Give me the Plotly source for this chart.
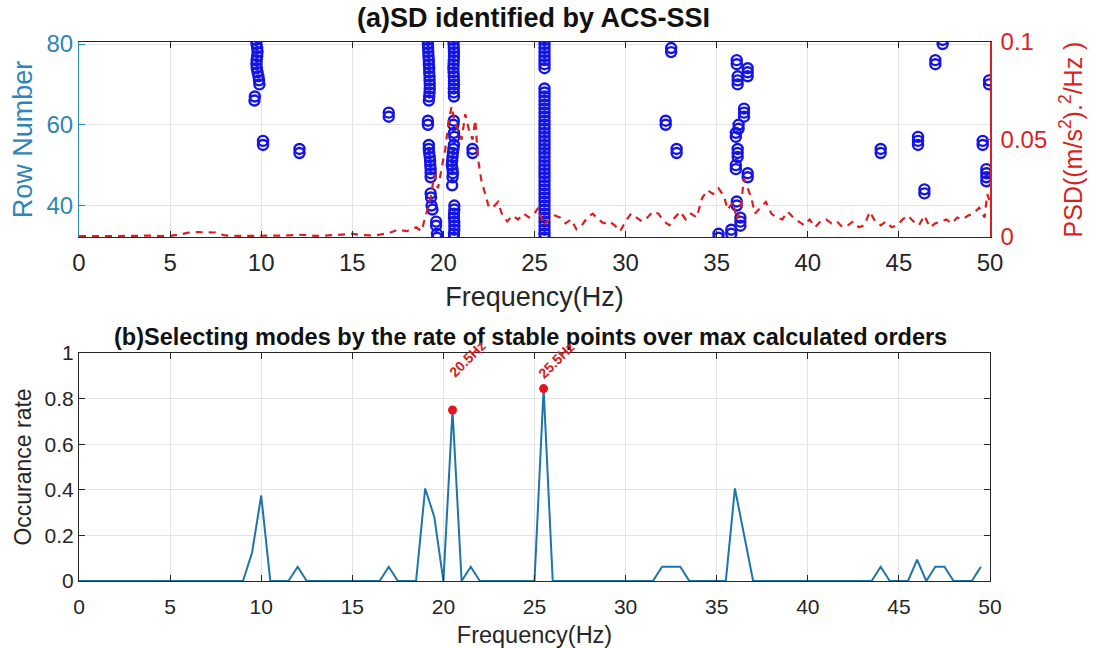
import plotly.graph_objects as go

# ---------------- data ----------------
# (a) stabilisation diagram: identified frequency (Hz) vs row number
sd_freq = (
    [9.72, 9.74, 9.78, 9.80, 9.78, 9.75, 9.74, 9.76, 9.80, 9.85, 9.88, 9.90, 9.65, 9.63]
    + [10.1, 10.1, 12.1, 12.1, 17.0, 17.0]
    + [19.15, 19.15, 19.16, 19.17, 19.18, 19.2, 19.2, 19.22, 19.22, 19.24, 19.24, 19.25, 19.25, 19.24, 19.22, 19.2]
    + [19.15, 19.15, 19.2, 19.2, 19.22, 19.25, 19.27, 19.28, 19.3, 19.3, 19.3, 19.3, 19.32, 19.35, 19.4, 19.6, 19.6, 19.65, 19.65]
    + [20.55, 20.56, 20.57, 20.58, 20.58, 20.57, 20.56, 20.55, 20.56, 20.57, 20.58, 20.58, 20.57, 20.57, 20.58]
    + [20.57, 20.55, 20.58, 20.6, 20.58, 20.55, 20.52, 20.5, 20.48, 20.46, 20.5, 20.52, 20.5, 20.48]
    + [20.6, 20.6, 20.58, 20.58, 20.6, 20.6, 20.6, 20.58, 20.58]
    + [21.6, 21.6]
    + [25.55] * 8 + [25.55] * 38
    + [32.2, 32.2, 32.5, 32.5, 32.8, 32.8, 35.1, 35.1, 35.8, 35.8]
    + [36.1, 36.1, 36.15, 36.15, 36.15, 36.2, 36.2, 36.05, 36.05, 36.15, 36.15, 36.15, 36.05, 36.05, 36.1, 36.1, 36.3, 36.3, 36.3]
    + [36.7, 36.7, 36.7, 36.5, 36.5, 36.5, 36.7, 36.7]
    + [44.0, 44.0, 46.05, 46.05, 46.05, 46.4, 46.4, 47.0, 47.0, 47.4, 47.4]
    + [49.6, 49.6, 49.8, 49.8, 49.8, 49.8, 49.95, 49.95]
)
sd_row = (
    [81, 80, 79, 78, 77, 76, 75, 74, 73, 72, 71, 70, 67, 66]
    + [56, 55, 54, 53, 63, 62]
    + [81, 80, 79, 78, 77, 76, 75, 74, 73, 72, 71, 70, 69, 68, 67, 66]
    + [61, 60, 55, 54, 53, 52, 51, 50, 49, 48, 47, 43, 42, 40, 39, 36, 35, 33, 32]
    + [81, 80, 79, 78, 77, 76, 75, 74, 73, 72, 71, 70, 69, 68, 67]
    + [61, 60, 58, 57, 55, 54, 53, 52, 51, 50, 49, 48, 47, 45]
    + [40, 39, 38, 37, 36, 35, 34, 33, 32]
    + [54, 53]
    + list(range(81, 73, -1)) + list(range(69, 31, -1))
    + [61, 60, 79, 78, 54, 53, 33, 32, 34, 33]
    + [76, 75, 72, 71, 70, 60, 59, 58, 57, 54, 53, 52, 50, 49, 41, 40, 37, 36, 35]
    + [74, 73, 72, 64, 63, 62, 48, 47]
    + [54, 53, 57, 56, 55, 44, 43, 76, 75, 81, 80]
    + [56, 55, 49, 48, 47, 46, 71, 70]
)

# (a) PSD curve (right axis)
psd_freq = [0, 0.5, 1, 1.5, 2, 2.5, 3, 3.5, 4, 4.5, 5, 5.5, 6, 6.5, 7, 7.5, 8, 8.5, 9, 9.5,
            10, 10.5, 11, 11.5, 12, 12.5, 13, 13.5, 14, 14.5, 15, 15.5, 16, 16.5, 17, 17.5, 18, 18.5,
            18.8, 19.0, 19.3, 19.5, 19.7, 19.9, 20.1, 20.3, 20.45, 20.6, 20.8, 21.0, 21.2, 21.4, 21.6,
            21.75, 21.9, 22.1, 22.3, 22.5, 22.8, 23.0, 23.2, 23.5, 23.8, 24.1, 24.4, 24.7, 25.0, 25.2,
            25.5, 25.8, 26.1, 26.4, 26.7, 27.0, 27.3, 27.6, 27.9, 28.2, 28.5, 28.8, 29.1, 29.4, 29.7,
            30.0, 30.3, 30.6, 30.9, 31.2, 31.5, 31.8, 32.1, 32.4, 32.7, 33.0, 33.3, 33.6, 33.9, 34.2,
            34.5, 34.8, 35.1, 35.4, 35.6, 35.9, 36.1, 36.3, 36.5, 36.7, 36.9, 37.1, 37.4, 37.7, 38.0,
            38.3, 38.6, 38.9, 39.2, 39.5, 39.8, 40.1, 40.4, 40.7, 41.0, 41.3, 41.6, 41.9, 42.2, 42.5,
            42.8, 43.1, 43.4, 43.7, 44.0, 44.3, 44.6, 44.9, 45.2, 45.5, 45.8, 46.1, 46.4, 46.7, 47.0,
            47.3, 47.6, 47.9, 48.2, 48.5, 48.8, 49.1, 49.4, 49.7, 49.85, 50.0]
psd_val = [0.0005, 0.0004, 0.0006, 0.0004, 0.0005, 0.0006, 0.0004, 0.0005, 0.0007, 0.0005, 0.0006,
           0.0012, 0.0022, 0.0025, 0.0024, 0.0023, 0.0008, 0.0006, 0.0005, 0.0006, 0.0007, 0.0005,
           0.0006, 0.0008, 0.0012, 0.0008, 0.0006, 0.0007, 0.0009, 0.0012, 0.0016, 0.0010, 0.0008,
           0.0012, 0.0020, 0.0038, 0.0030, 0.0050, 0.0030, 0.010, 0.020, 0.032, 0.025, 0.035, 0.045,
           0.060, 0.067, 0.060, 0.055, 0.050, 0.063, 0.055, 0.050, 0.060, 0.040, 0.028, 0.022, 0.015,
           0.016, 0.018, 0.012, 0.008, 0.011, 0.009, 0.012, 0.010, 0.012, 0.015, 0.006, 0.009, 0.011,
           0.010, 0.007, 0.009, 0.004, 0.006, 0.010, 0.012, 0.009, 0.007, 0.008, 0.006, 0.003, 0.008,
           0.012, 0.010, 0.008, 0.010, 0.013, 0.012, 0.008, 0.006, 0.010, 0.013, 0.009, 0.012, 0.010,
           0.020, 0.024, 0.022, 0.025, 0.021, 0.014, 0.018, 0.009, 0.014, 0.030, 0.025, 0.020, 0.012,
           0.015, 0.018, 0.012, 0.010, 0.009, 0.013, 0.010, 0.008, 0.006, 0.009, 0.005, 0.008, 0.009,
           0.007, 0.008, 0.005, 0.006, 0.008, 0.005, 0.006, 0.013, 0.008, 0.006, 0.008, 0.005, 0.006,
           0.009, 0.011, 0.008, 0.006, 0.011, 0.005, 0.007, 0.008, 0.009, 0.007, 0.010, 0.009, 0.011,
           0.012, 0.015, 0.010, 0.022, 0.018]

# (b) occurrence rate
rate_freq = [i * 0.5 for i in range(100)]
rate_val = [0] * 100
_rate_points = {9.5: 0.125, 10.0: 0.375, 12.0: 0.0625, 17.0: 0.0625, 19.0: 0.406, 19.5: 0.281,
                20.5: 0.75, 21.5: 0.0625, 25.5: 0.844, 32.0: 0.0625, 32.5: 0.0625, 33.0: 0.0625,
                36.0: 0.406, 36.5: 0.2, 44.0: 0.0625, 46.0: 0.094, 47.0: 0.0625, 47.5: 0.0625,
                49.5: 0.0625}
for _f, _v in _rate_points.items():
    rate_val[int(round(_f * 2))] = _v

peak_freq = [20.5, 25.5]
peak_rate = [0.75, 0.844]
peak_labels = ["20.5Hz", "25.5Hz"]
peak_label_x = [21.3, 26.2]
peak_label_y = [0.975, 0.97]

x_ticks = list(range(0, 51, 5))
row_ticks = [40, 60, 80]
psd_ticks = [0, 0.05, 0.1]
psd_ticktext = ["0", "0.05", "0.1"]
rate_ticks = [0, 0.2, 0.4, 0.6, 0.8, 1]
rate_ticktext = ["0", "0.2", "0.4", "0.6", "0.8", "1"]

# ---------------- style ----------------
FONT = "Arial, Liberation Sans, sans-serif"
DARK = "#262626"
BLUE_AX = "#2f86b6"
RED = "#d91f1f"
GRID = "#e3e3e3"
W, H = 1096, 648
XD = [79 / W, 990 / W]
YD_TOP = [1 - 237 / H, 1 - 42 / H]
YD_BOT = [1 - 581 / H, 1 - 353 / H]

fig = go.Figure()

fig.add_trace(go.Scatter(
    x=sd_freq, y=sd_row, mode="markers", xaxis="x", yaxis="y",
    marker=dict(symbol="circle-open", size=10, color="#1414e6", line=dict(width=2.4, color="#1414e6")),
    showlegend=False))

fig.add_trace(go.Scatter(
    x=psd_freq, y=psd_val, mode="lines", xaxis="x", yaxis="y2",
    line=dict(color=RED, width=2.2, dash="7px,6px"), showlegend=False))

fig.add_trace(go.Scatter(
    x=rate_freq, y=rate_val, mode="lines", xaxis="x2", yaxis="y3",
    line=dict(color="#1f74a8", width=2), showlegend=False))

fig.add_trace(go.Scatter(
    x=peak_freq, y=peak_rate, mode="markers", xaxis="x2", yaxis="y3",
    marker=dict(color="#e8141b", size=9), showlegend=False))

common_x = dict(range=[0, 50], tickvals=x_ticks, ticks="inside", ticklen=6, tickcolor=DARK,
                showline=True, linecolor=DARK, linewidth=1, mirror="ticks",
                showgrid=True, gridcolor=GRID, gridwidth=1, zeroline=False,
                domain=XD, automargin=False)

fig.update_layout(
    width=W, height=H,
    margin=dict(l=0, r=0, t=0, b=0),
    paper_bgcolor="white", plot_bgcolor="white",
    font=dict(family=FONT, color=DARK),
    xaxis=dict(common_x, anchor="y",
               tickfont=dict(size=24, color=DARK), ticklabelstandoff=4,
               title=dict(text="Frequency(Hz)", font=dict(size=27, color=DARK), standoff=12)),
    yaxis=dict(domain=YD_TOP, range=[32.2, 80.5], tickvals=row_ticks, anchor="x",
               ticks="inside", ticklen=6, tickcolor=BLUE_AX,
               showline=True, linecolor=BLUE_AX, linewidth=1,
               showgrid=True, gridcolor=GRID, zeroline=False, automargin=False,
               tickfont=dict(size=24, color=BLUE_AX),
               title=dict(text="Row Number", font=dict(size=27, color=BLUE_AX), standoff=6)),
    yaxis2=dict(overlaying="y", side="right", anchor="x", range=[0, 0.1],
                tickvals=psd_ticks, ticktext=psd_ticktext,
                ticks="inside", ticklen=6, tickcolor=RED,
                showline=True, linecolor=RED, linewidth=1.5,
                showgrid=False, zeroline=False, automargin=False,
                tickfont=dict(size=24, color=RED), ticklabelstandoff=4,
                title=dict(text="PSD((m/s<sup>2</sup>).<sup>2</sup>/Hz )",
                           font=dict(size=25, color=RED), standoff=18)),
    xaxis2=dict(common_x, anchor="y3",
                tickfont=dict(size=21, color=DARK), ticklabelstandoff=7,
                title=dict(text="Frequency(Hz)", font=dict(size=23.5, color=DARK), standoff=14)),
    yaxis3=dict(domain=YD_BOT, range=[0, 1], tickvals=rate_ticks, ticktext=rate_ticktext,
                anchor="x2", ticks="inside", ticklen=6, tickcolor=DARK,
                showline=True, linecolor=DARK, linewidth=1, mirror="ticks",
                showgrid=True, gridcolor=GRID, zeroline=False, automargin=False,
                tickfont=dict(size=21, color=DARK),
                title=dict(text="Occurance rate", font=dict(size=23, color=DARK), standoff=6)),
)

fig.add_annotation(text="<b>(a)SD identified by ACS-SSI</b>", xref="paper", yref="paper",
                   x=533 / W, y=1 - 18 / H, xanchor="center", yanchor="middle",
                   showarrow=False, font=dict(size=27, color="#111111"))
fig.add_annotation(text="<b>(b)Selecting modes by the rate of stable points over max calculated orders</b>",
                   xref="paper", yref="paper", x=530 / W, y=1 - 337 / H,
                   xanchor="center", yanchor="middle", showarrow=False,
                   font=dict(size=23.5, color="#111111"))

for lx, ly, lab in zip(peak_label_x, peak_label_y, peak_labels):
    fig.add_annotation(text="<b>" + lab + "</b>", x=lx, y=ly,
                       xref="x2", yref="y3", textangle=-45, showarrow=False,
                       xanchor="center", yanchor="middle", font=dict(size=14, color="#d42020"))

fig.write_html("out.html")
